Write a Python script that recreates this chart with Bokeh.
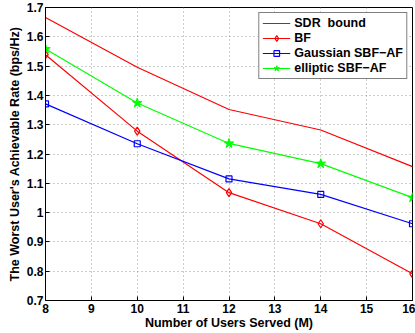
from bokeh.plotting import figure
from bokeh.models import Range1d, FixedTicker, CustomJSTickFormatter, Legend, LegendItem
from bokeh.embed import file_html
from bokeh.resources import INLINE

M = [8, 10, 12, 14, 16]
sdr = [1.666, 1.496, 1.352, 1.282, 1.157]
bf = [1.539, 1.278, 1.068, 0.962, 0.791]
gauss = [1.371, 1.235, 1.115, 1.062, 0.962]
ellip = [1.558, 1.374, 1.236, 1.167, 1.051]

x_ticks = [8, 9, 10, 11, 12, 13, 14, 15, 16]
y_ticks = [0.7, 0.8, 0.9, 1.0, 1.1, 1.2, 1.3, 1.4, 1.5, 1.6, 1.7]

FONT = "Liberation Sans"

p = figure(frame_width=367, frame_height=293, output_backend="svg", toolbar_location=None,
           x_range=Range1d(8, 16), y_range=Range1d(0.7, 1.7),
           min_border_left=45, min_border_right=3, min_border_top=7, min_border_bottom=33,
           styles={"position": "absolute", "left": "0px", "top": "0px"})
p.outline_line_color = "black"
p.outline_line_width = 1
p.background_fill_color = "white"

for ax in (p.xaxis[0], p.yaxis[0]):
    ax.major_tick_in = 4
    ax.major_tick_out = 0
    ax.minor_tick_in = 0
    ax.minor_tick_out = 0
    ax.axis_line_color = "black"
    ax.major_tick_line_color = "black"
    ax.major_label_text_font = FONT
    ax.major_label_text_font_style = "bold"
    ax.major_label_text_font_size = "12px"
    ax.major_label_text_color = "black"
    ax.axis_label_text_font = FONT
    ax.axis_label_text_font_style = "bold"
    ax.axis_label_text_font_size = "12.5px"
    ax.axis_label_text_color = "black"

p.xaxis.ticker = FixedTicker(ticks=x_ticks)
p.yaxis.ticker = FixedTicker(ticks=y_ticks)
p.yaxis.formatter = CustomJSTickFormatter(code="return tick.toFixed(1).replace(/\\.0$/, '');")
p.xaxis.major_label_standoff = 3
p.yaxis.major_label_standoff = 2
p.xaxis.axis_label_standoff = 0
p.yaxis.axis_label_standoff = 2
p.xaxis.axis_label = "Number of Users Served (M)"
p.yaxis.axis_label = "The Worst User's Achievable Rate (bps/Hz)"

for g in (p.xgrid[0], p.ygrid[0]):
    g.grid_line_color = "#9a9a9a"
    g.grid_line_dash = "1 3"
    g.grid_line_width = 1

lw = 1.2
r_sdr = p.line(M, sdr, line_color="#ff0000", line_width=lw)
r_bf = p.line(M, bf, line_color="#ff0000", line_width=lw)
m_bf = p.scatter(M, bf, marker="diamond", size=8, line_color="#ff0000", fill_color=None, line_width=1.2)
r_g = p.line(M, gauss, line_color="#0000ff", line_width=lw)
m_g = p.scatter(M, gauss, marker="square", size=6, line_color="#0000ff", fill_color=None, line_width=1.2)
r_e = p.line(M, ellip, line_color="#00ff00", line_width=lw)
m_e = p.scatter(M, ellip, marker="star", size=10, line_color="#00ff00", fill_color="#00ff00", line_width=1)

legend = Legend(items=[
    LegendItem(label="SDR  bound", renderers=[r_sdr]),
    LegendItem(label="BF", renderers=[r_bf, m_bf]),
    LegendItem(label="Gaussian SBF\u2212AF", renderers=[r_g, m_g]),
    LegendItem(label="elliptic SBF\u2212AF", renderers=[r_e, m_e]),
], location="top_right")
legend.margin = 5
legend.padding = 3
legend.spacing = 1
legend.glyph_width = 28
legend.glyph_height = 14
legend.label_height = 14
legend.label_standoff = 4
legend.label_text_font = FONT
legend.label_text_font_style = "bold"
legend.label_text_font_size = "12.5px"
legend.label_text_color = "black"
legend.border_line_color = "black"
legend.border_line_width = 1
legend.background_fill_color = "white"
legend.background_fill_alpha = 1
p.add_layout(legend)

open("out.html", "w").write(file_html(p, INLINE))
